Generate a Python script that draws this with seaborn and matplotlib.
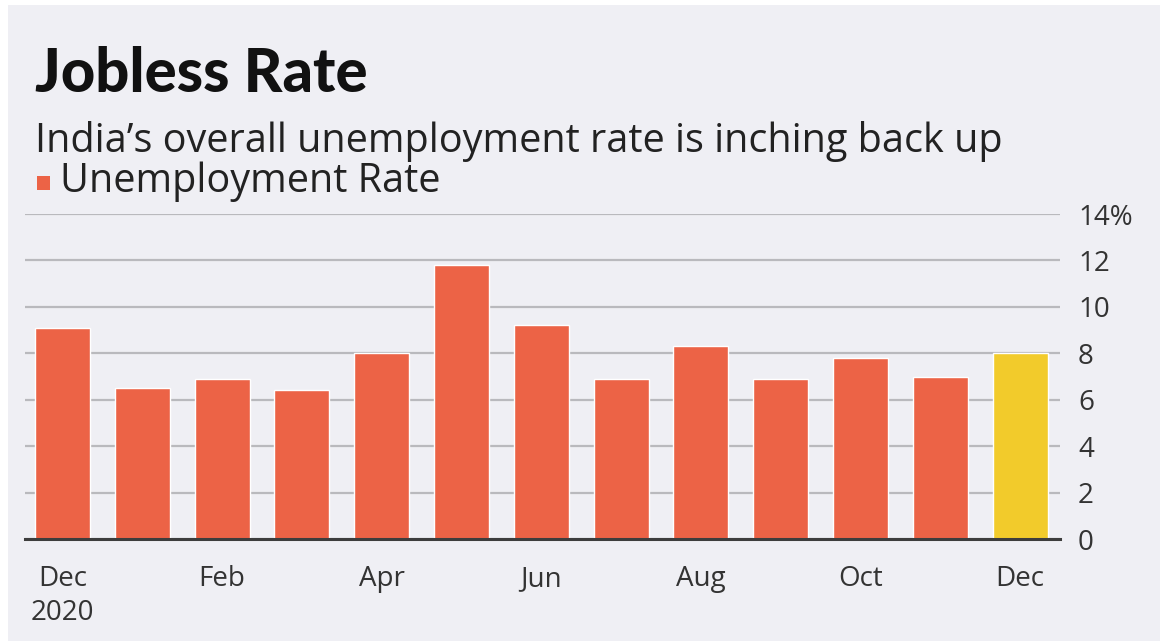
import matplotlib
matplotlib.use("Agg")
import matplotlib.pyplot as plt
from matplotlib.patches import Rectangle
import seaborn as sns
import pandas as pd

# ---- data ----
months = ["Dec 2020", "Jan 2021", "Feb 2021", "Mar 2021", "Apr 2021", "May 2021",
          "Jun 2021", "Jul 2021", "Aug 2021", "Sep 2021", "Oct 2021", "Nov 2021", "Dec 2021"]
rates = [9.1, 6.5, 6.9, 6.4, 8.0, 11.8, 9.2, 6.9, 8.3, 6.9, 7.8, 7.0, 8.0]
bar_colors = ["#ec6346"] * 12 + ["#f2cb2b"]
x_tick_pos = [0, 2, 4, 6, 8, 10, 12]
x_tick_labels = ["Dec\n2020", "Feb", "Apr", "Jun", "Aug", "Oct", "Dec"]
y_ticks = [0, 2, 4, 6, 8, 10, 12, 14]
y_tick_labels = ["0", "2", "4", "6", "8", "10", "12", "14%"]

title = "Jobless Rate"
subtitle = "India\u2019s overall unemployment rate is inching back up"
legend_label = "Unemployment Rate"

df = pd.DataFrame({"month": months, "rate": rates})

sns.set_theme(style="white")
plt.rcParams["font.family"] = ["Open Sans", "DejaVu Sans"]

W, H = 1160, 641
fig = plt.figure(figsize=(W / 100, H / 100), dpi=100, facecolor="white")
bg = "#efeff4"
fig.patches.append(Rectangle((8 / W, 0), 1 - 8 / W, 1 - 5 / H, transform=fig.transFigure,
                             facecolor=bg, edgecolor="none", zorder=-10))

ax = fig.add_axes([25 / W, 1 - 539 / H, (1060 - 25) / W, (539 - 214) / H])
ax.set_facecolor("none")

sns.barplot(data=df, x="month", y="rate", hue="month", palette=bar_colors,
            legend=False, width=0.69, saturation=1, ax=ax)

ax.set_ylim(0, 14)
ax.set_xlim(-0.47, 12.5)
ax.set_xlabel("")
ax.set_ylabel("")

ax.yaxis.tick_right()
ax.set_yticks(y_ticks)
ax.set_yticklabels(y_tick_labels, fontsize=20, color="#333333")
ax.tick_params(axis="y", length=0, pad=13)

ax.set_xticks(x_tick_pos)
ax.set_xticklabels(x_tick_labels, fontsize=20, color="#333333", linespacing=1.25)
ax.tick_params(axis="x", direction="out", length=14, width=1.3, color="#555555", pad=5)

ax.grid(axis="y", color="#b9b9bd", linewidth=1.6)
ax.set_axisbelow(True)
for s in ["left", "right", "top"]:
    ax.spines[s].set_visible(False)
ax.spines["bottom"].set_color("#3d3d3d")
ax.spines["bottom"].set_linewidth(2.2)

fig.text(35 / W, 1 - 92 / H, title, family=["Lato", "DejaVu Sans"], fontsize=43,
         fontweight="black", color="#111111", va="baseline", ha="left")
fig.text(35 / W, 1 - 152 / H, subtitle, fontsize=28.5, color="#222222",
         va="baseline", ha="left")
fig.patches.append(Rectangle((37 / W, 1 - 190 / H), 13 / W, 14 / H, transform=fig.transFigure,
                             facecolor=bar_colors[0], edgecolor="none"))
fig.text(60 / W, 1 - 192 / H, legend_label, fontsize=28.5, color="#222222",
         va="baseline", ha="left")

fig.savefig("out.png", dpi=100, facecolor="white")
